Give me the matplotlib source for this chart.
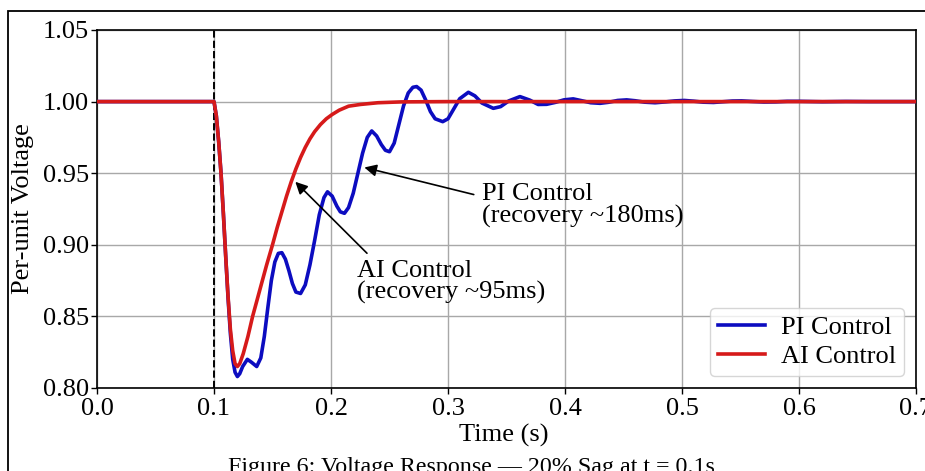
import matplotlib.pyplot as plt
from matplotlib.patches import Rectangle

plt.rcParams['font.family'] = ['Liberation Serif', 'DejaVu Serif']

# time (s) and per-unit voltage
t_pi = [0.0, 0.1, 0.102, 0.104, 0.106, 0.108, 0.110, 0.112, 0.114, 0.116, 0.118,
        0.120, 0.122, 0.1245, 0.1285, 0.132, 0.1365, 0.140, 0.143, 0.146, 0.149,
        0.152, 0.155, 0.158, 0.161, 0.164, 0.167, 0.170, 0.174, 0.178, 0.182,
        0.186, 0.190, 0.194, 0.197, 0.201, 0.205, 0.208, 0.2115, 0.215, 0.219,
        0.223, 0.227, 0.231, 0.2348, 0.239, 0.243, 0.2465, 0.250, 0.254, 0.258,
        0.262, 0.266, 0.270, 0.2732, 0.277, 0.281, 0.285, 0.289, 0.2955, 0.300,
        0.305, 0.310, 0.3174, 0.323, 0.329, 0.3387, 0.345, 0.352, 0.3615, 0.370,
        0.377, 0.3843, 0.392, 0.399, 0.407, 0.415, 0.422, 0.430, 0.437, 0.445,
        0.4527, 0.460, 0.468, 0.477, 0.486, 0.494, 0.502, 0.510, 0.518, 0.527,
        0.535, 0.543, 0.551, 0.560, 0.570, 0.580, 0.590, 0.600, 0.620, 0.640,
        0.660, 0.700]
v_pi = [1.0, 1.0, 0.990, 0.972, 0.950, 0.922, 0.892, 0.863, 0.838, 0.820, 0.811,
        0.808, 0.810, 0.815, 0.820, 0.818, 0.815, 0.821, 0.836, 0.856, 0.875,
        0.888, 0.894, 0.8945, 0.890, 0.882, 0.873, 0.867, 0.866, 0.872, 0.886,
        0.903, 0.921, 0.933, 0.937, 0.934, 0.927, 0.923, 0.922, 0.926, 0.936,
        0.950, 0.964, 0.975, 0.9795, 0.976, 0.970, 0.966, 0.965, 0.971, 0.984,
        0.997, 1.006, 1.010, 1.0105, 1.008, 1.001, 0.993, 0.988, 0.986, 0.988,
        0.995, 1.002, 1.0065, 1.004, 0.999, 0.9953, 0.9965, 1.0005, 1.0035, 1.001,
        0.998, 0.9981, 0.9995, 1.0012, 1.0019, 1.0005, 0.9992, 0.9988, 0.9995, 1.0008,
        1.0012, 1.0006, 0.9996, 0.9992, 0.9998, 1.0005, 1.0008, 1.0003, 0.9996, 0.9994,
        0.9999, 1.0004, 1.0005, 1.0001, 0.9997, 0.9998, 1.0002, 1.0002, 0.9999, 1.0001,
        1.0, 1.0]

t_ai = [0.0, 0.1, 0.102, 0.104, 0.106, 0.108, 0.110, 0.112, 0.114, 0.116, 0.118,
        0.120, 0.122, 0.125, 0.129, 0.133, 0.137, 0.141, 0.145, 0.150, 0.154,
        0.158, 0.162, 0.166, 0.170, 0.174, 0.178, 0.182, 0.186, 0.191, 0.196,
        0.201, 0.207, 0.215, 0.225, 0.240, 0.260, 0.300, 0.700]
v_ai = [1.0, 1.0, 0.990, 0.972, 0.950, 0.922, 0.892, 0.864, 0.841, 0.826, 0.817,
        0.815, 0.817, 0.824, 0.836, 0.850, 0.862, 0.874, 0.886, 0.900, 0.912,
        0.923, 0.934, 0.944, 0.953, 0.961, 0.968, 0.974, 0.979, 0.984, 0.988,
        0.991, 0.994, 0.9968, 0.998, 0.9992, 0.9998, 1.0, 1.0]

sag_time = 0.1
x_ticks = [0.0, 0.1, 0.2, 0.3, 0.4, 0.5, 0.6, 0.7]
y_ticks = [0.80, 0.85, 0.90, 0.95, 1.00, 1.05]

fs = 19

fig = plt.figure(figsize=(9.25, 4.71), dpi=100)
ax = fig.add_axes([97 / 925, 1 - 388 / 471, 819 / 925, 358 / 471])

ax.plot(t_pi, v_pi, color='#0c0cc0', lw=2.6, label='PI Control', zorder=3)
ax.plot(t_ai, v_ai, color='#d61a1a', lw=2.6, label='AI Control', zorder=4)
ax.axvline(sag_time, color='black', ls='--', lw=1.4, zorder=2)

ax.set_xlim(0, 0.7)
ax.set_ylim(0.80, 1.05)
ax.set_xticks(x_ticks)
ax.set_yticks(y_ticks)
ax.set_xticklabels([f'{x:.1f}' for x in x_ticks])
ax.set_yticklabels([f'{y:.2f}' for y in y_ticks])
ax.tick_params(axis='both', labelsize=fs, length=4, width=1, color='black')
ax.tick_params(axis='x', pad=3)
ax.tick_params(axis='y', pad=2)
ax.grid(True, color='#a8a8a8', lw=1.0)
ax.set_axisbelow(True)
for s in ax.spines.values():
    s.set_linewidth(1.2)

ax.set_xlabel('Time (s)', fontsize=fs)
ax.set_ylabel('Per-unit Voltage', fontsize=fs)
ax.xaxis.set_label_coords(0.497, -0.1)
ax.yaxis.set_label_coords(-0.077, 0.5)

# annotations
ax.annotate('PI Control\n(recovery ~180ms)', xy=(0.2285, 0.954), xytext=(0.329, 0.9275),
            fontsize=fs, ha='left', va='center', linespacing=0.95,
            arrowprops=dict(arrowstyle='-|>', color='black', lw=1.2,
                            mutation_scale=18, shrinkA=4, shrinkB=0,
                            relpos=(0.0, 0.7)))
ax.annotate('AI Control\n(recovery ~95ms)', xy=(0.1695, 0.944), xytext=(0.222, 0.874),
            fontsize=fs, ha='left', va='center', linespacing=0.95,
            arrowprops=dict(arrowstyle='-|>', color='black', lw=1.2,
                            mutation_scale=18, shrinkA=4, shrinkB=0,
                            relpos=(0.09, 1.0)))

ax.legend(loc='lower right', fontsize=fs, borderaxespad=0.45,
          handlelength=1.8, handletextpad=0.6, labelspacing=0.2, borderpad=0.3)

# outer frame of the figure (cropped on the right and bottom)
fig.patches.append(Rectangle((8 / 925, -0.1), 1.2, 1 - 11 / 471 + 0.1,
                             transform=fig.transFigure, fill=False,
                             edgecolor='black', lw=1.3))

fig.text(471 / 925, 1 - 457 / 471, 'Figure 6: Voltage Response \u2014 20% Sag at t = 0.1s',
         fontsize=17.3, ha='center', va='top')

fig.savefig('out.png', dpi=100)
